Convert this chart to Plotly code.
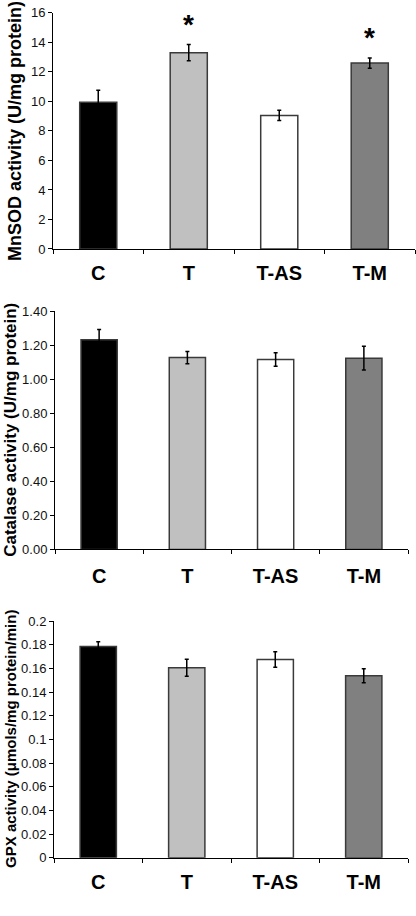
import plotly.graph_objects as go

categories = ["C", "T", "T-AS", "T-M"]
bar_colors = ["#000000", "#c0c0c0", "#ffffff", "#808080"]

mnsod_values = [9.95, 13.3, 9.05, 12.6]
mnsod_errors = [0.8, 0.55, 0.35, 0.35]
mnsod_sig = ["", "*", "", "*"]

catalase_values = [1.232, 1.128, 1.116, 1.124]
catalase_errors = [0.06, 0.036, 0.04, 0.07]

gpx_values = [0.1786, 0.1605, 0.1675, 0.1538]
gpx_errors = [0.004, 0.0072, 0.0065, 0.006]

mnsod_ticks = [0, 2, 4, 6, 8, 10, 12, 14, 16]
mnsod_ticktext = ["0", "2", "4", "6", "8", "10", "12", "14", "16"]
catalase_ticks = [0, 0.2, 0.4, 0.6, 0.8, 1.0, 1.2, 1.4]
catalase_ticktext = ["0.00", "0.20", "0.40", "0.60", "0.80", "1.00", "1.20", "1.40"]
gpx_ticks = [0, 0.02, 0.04, 0.06, 0.08, 0.1, 0.12, 0.14, 0.16, 0.18, 0.2]
gpx_ticktext = ["0", "0.02", "0.04", "0.06", "0.08", "0.1", "0.12", "0.14", "0.16", "0.18", "0.2"]

titles = ["MnSOD activity (U/mg protein)",
          "Catalase activity (U/mg protein)",
          "GPX activity (\u03bcmols/mg protein/min)"]

FONT = "Arial, 'Liberation Sans', sans-serif"
W, H = 416, 916

panels = [
    dict(vals=mnsod_values, errs=mnsod_errors, rng=[0, 16], tv=mnsod_ticks, tt=mnsod_ticktext,
         xd=[53 / W, 415 / W], yd=[1 - 246 / H, 1 - 6 / H], tx=15, tsize=18, so=6),
    dict(vals=catalase_values, errs=catalase_errors, rng=[0, 1.4], tv=catalase_ticks, tt=catalase_ticktext,
         xd=[55 / W, 408 / W], yd=[1 - 551.5 / H, 1 - 309.3 / H], tx=10.5, tsize=17, so=9),
    dict(vals=gpx_values, errs=gpx_errors, rng=[0, 0.2], tv=gpx_ticks, tt=gpx_ticktext,
         xd=[54 / W, 408 / W], yd=[1 - 865 / H, 1 - 624.3 / H], tx=10.5, tsize=15, so=6),
]

fig = go.Figure()
layout = dict(
    width=W, height=H, margin=dict(l=0, r=0, t=0, b=0),
    plot_bgcolor="white", paper_bgcolor="white", showlegend=False,
    font=dict(family=FONT, color="#111111"),
    annotations=[],
)

for i, p in enumerate(panels):
    n = "" if i == 0 else str(i + 1)
    fig.add_trace(go.Bar(
        x=categories, y=p["vals"], width=0.41,
        marker=dict(color=bar_colors, line=dict(color="#3a3a3a", width=1.5)),
        error_y=dict(type="data", array=p["errs"], visible=True, color="black", thickness=1.5, width=2),
        xaxis="x" + n, yaxis="y" + n,
    ))
    layout["xaxis" + n] = dict(
        domain=p["xd"], anchor="y" + n, range=[-0.5, 3.5], type="category",
        showline=True, linecolor="black", linewidth=1,
        ticks="outside", tickson="boundaries", ticklen=4, tickcolor="black",
        tickfont=dict(family=FONT, size=20, color="black", weight="bold"),
        showgrid=False, zeroline=False, ticklabelstandoff=p["so"],
    )
    layout["yaxis" + n] = dict(
        domain=p["yd"], anchor="x" + n, range=p["rng"],
        tickvals=p["tv"], ticktext=p["tt"],
        showline=True, linecolor="black", linewidth=1,
        ticks="outside", ticklen=4, tickcolor="black",
        tickfont=dict(family=FONT, size=13, color="#111111"),
        showgrid=False, zeroline=False,
    )
    layout["annotations"].append(dict(
        text="<b>" + titles[i] + "</b>", textangle=-90,
        xref="paper", yref="paper", x=p["tx"] / W, y=(p["yd"][0] + p["yd"][1]) / 2,
        xanchor="center", yanchor="middle", showarrow=False,
        font=dict(family=FONT, size=p["tsize"], color="black"),
    ))

for c, v, e, s in zip(categories, mnsod_values, mnsod_errors, mnsod_sig):
    if s:
        layout["annotations"].append(dict(
            text="<b>" + s + "</b>", x=c, y=v + e, xref="x", yref="y",
            xanchor="center", yanchor="bottom", showarrow=False, yshift=3,
            font=dict(family=FONT, size=28, color="black"),
        ))

fig.update_layout(**layout)
fig.write_html("out.html", config={"displayModeBar": False},
               post_script="document.body.style.margin='0';document.body.style.overflow='hidden';")
